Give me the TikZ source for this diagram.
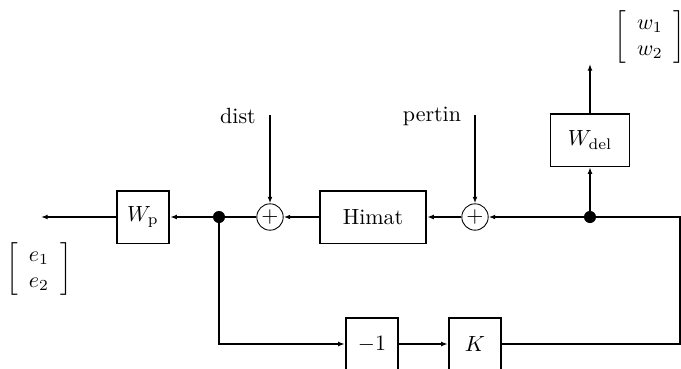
\documentclass[tikz,border=0pt]{standalone}
\usepackage{amsmath,amssymb}
\usepackage{tikz}
\usetikzlibrary{arrows.meta,positioning,calc}

\begin{document}
\begin{tikzpicture}[
    x=0.455pt, y=-0.455pt,
    blk/.style={draw, thick, minimum width=24pt, minimum height=24pt, inner sep=0pt},
    sum/.style={draw, circle, minimum size=12pt, inner sep=0pt},
    dot/.style={circle, fill, minimum size=5.5pt, inner sep=0pt},
    vec/.style={inner sep=0pt},
    arr/.style={-{Latex[length=3pt,width=2.2pt]}, thick}
]
\useasboundingbox (0,0) rectangle (681,368);
\clip (0,0) rectangle (681,368);
% forward path
\node[blk] (wp) at (143,217) {$W_{\rm p}$};
\node[dot] (d1) at (219,217) {};
\node[sum] (s1) at (270,217) {$+$};
\node[blk, minimum width=48.5pt] (himat) at (373,217) {Himat};
\node[sum] (s2) at (475,217) {$+$};
\node[dot] (d2) at (590,217) {};
\node[blk, minimum width=36pt] (wdel) at (590,140) {$W_{\rm del}$};
% feedback path
\node[blk] (neg) at (372,344) {$-1$};
\node[blk] (k) at (475,344) {$K$};
% signals
\node (dist) at (238,116) {dist};
\node (pertin) at (432,116) {pertin};
\node[vec] (e) at (39,269) {$\left[\begin{array}{c} e_1\\ e_2 \end{array}\right]$};
\node[vec] (w) at (650,37) {$\left[\begin{array}{c} w_1\\ w_2 \end{array}\right]$};
\coordinate (eout) at (41,217);
\coordinate (wout) at (590,64);
\coordinate (distin) at (270,115);
\coordinate (pertinin) at (475,115);
\coordinate (rc) at (680,217);

\draw[arr] (d1) -- (wp);
\draw[arr] (wp) -- (eout);
\draw[thick] (s1) -- (d1);
\draw[arr] (himat) -- (s1);
\draw[arr] (distin) -- (s1);
\draw[arr] (s2) -- (himat);
\draw[arr] (pertinin) -- (s2);
\draw[arr] (d2) -- (s2);
\draw[arr] (d2) -- (wdel);
\draw[arr] (wdel) -- (wout);
\draw[thick] (d2) -- (rc) |- (k);
\draw[arr] (d1) |- (neg);
\draw[arr] (neg) -- (k);
\end{tikzpicture}
\end{document}
